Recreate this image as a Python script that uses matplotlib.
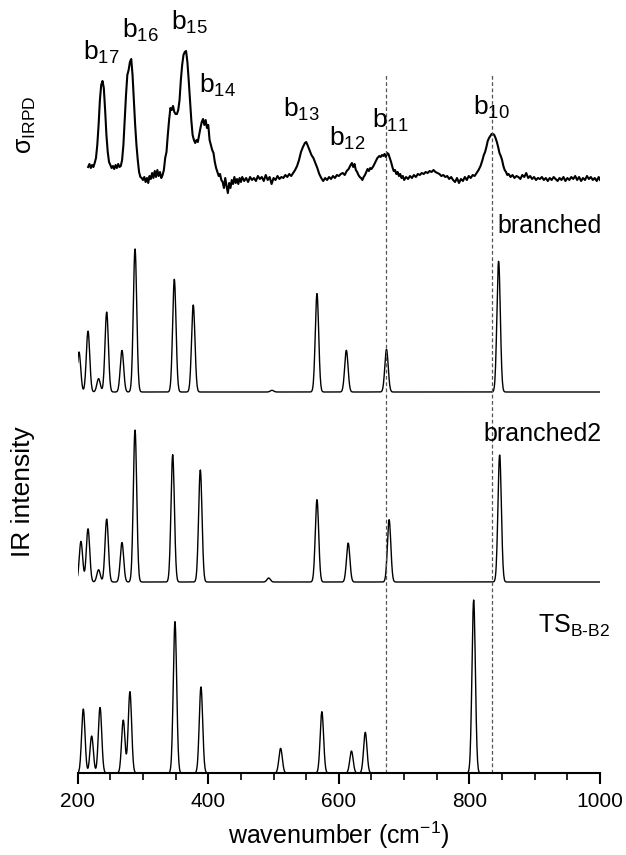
import matplotlib
matplotlib.use("Agg")
import matplotlib.pyplot as plt
import numpy as np

plt.rcParams['font.family'] = ['Liberation Sans', 'DejaVu Sans']
plt.rcParams['mathtext.fontset'] = 'custom'
plt.rcParams['mathtext.rm'] = 'Liberation Sans'
plt.rcParams['mathtext.it'] = 'Liberation Sans'
plt.rcParams['mathtext.default'] = 'regular'

# experimental IRPD trace (wavenumber, signal above baseline)
exp_wn = [216, 218, 220, 222, 224, 226, 228, 230, 232, 234, 236, 238, 240, 242, 244, 246, 248, 250,
          252, 254, 256, 258, 260, 262, 264, 266, 268, 270, 272, 274, 276, 278, 280, 282, 284, 286,
          288, 290, 292, 294, 296, 298, 300, 302, 304, 306, 308, 310, 312, 314, 316, 318, 320, 322,
          324, 326, 328, 330, 332, 334, 336, 338, 340, 342, 344, 346, 348, 350, 352, 354, 356, 358,
          360, 362, 364, 366, 368, 370, 372, 374, 376, 378, 380, 382, 384, 386, 388, 390, 392, 394,
          396, 398, 400, 402, 404, 406, 408, 410, 412, 414, 416, 418, 420, 422, 424, 426, 428, 430,
          432, 434, 436, 438, 440, 442, 444, 446, 448, 450, 452, 455, 458, 461, 464, 467, 470, 473,
          476, 479, 482, 485, 488, 491, 494, 497, 500, 503, 506, 509, 512, 515, 518, 521, 524, 527,
          530, 533, 536, 539, 542, 545, 548, 550, 552, 555, 558, 561, 564, 567, 570, 573, 576, 579,
          582, 585, 588, 591, 594, 597, 600, 603, 606, 609, 612, 615, 618, 620, 622, 624, 626, 628,
          630, 632, 634, 636, 638, 640, 642, 644, 646, 648, 650, 653, 656, 659, 662, 664, 666, 668,
          670, 672, 674, 676, 678, 680, 682, 684, 686, 688, 690, 692, 694, 696, 698, 700, 703, 706,
          709, 712, 715, 718, 721, 724, 727, 730, 733, 736, 739, 742, 745, 748, 751, 754, 757, 760,
          763, 766, 769, 772, 775, 778, 781, 784, 787, 790, 793, 796, 799, 802, 805, 808, 811, 814,
          817, 820, 822, 824, 826, 828, 830, 832, 834, 836, 838, 840, 842, 844, 846, 848, 850, 852,
          854, 856, 858, 860, 863, 866, 869, 872, 875, 878, 881, 884, 887, 890, 893, 896, 899, 902,
          905, 908, 911, 914, 917, 920, 923, 926, 929, 932, 935, 938, 941, 944, 947, 950, 953, 956,
          959, 962, 965, 968, 971, 974, 977, 980, 983, 986, 989, 992, 995, 998, 1000]
exp_sig = [13, 16, 12, 15, 13, 17, 22, 35, 55, 80, 95, 99, 92, 70, 45, 28, 18, 15,
           12, 14, 11, 15, 12, 16, 13, 14, 20, 35, 60, 85, 105, 110, 118, 121, 105, 80,
           55, 35, 20, 8, 3, 2, 0, 3, -2, 2, -3, 4, 1, 7, 2, 9, 3, 10,
           4, 8, 2, 5, 10, 22, 28, 45, 60, 72, 70, 74, 68, 66, 66, 70, 80, 100,
           115, 125, 128, 129, 118, 100, 80, 60, 45, 40, 37, 40, 38, 45, 52, 58, 61, 55,
           60, 52, 55, 40, 35, 30, 27, 18, 12, 8, 4, 6, 0, -2, -8, 2, -6, -13,
           -3, -8, 0, -4, 3, -3, 1, -4, 2, -2, 3, -1, 2, -2, 3, 0, 2, -1,
           4, 1, 3, -1, 5, 0, 3, -4, 2, 0, 4, 1, 3, 2, 5, 3, 6, 4,
           7, 10, 14, 20, 28, 33, 37, 38, 35, 30, 25, 22, 17, 12, 6, 2, -1, 2,
           0, 3, 1, 4, 2, 5, 4, 6, 7, 5, 9, 11, 15, 17, 13, 16, 10, 8,
           5, 3, 2, 0, 3, 5, 8, 11, 9, 12, 11, 14, 18, 22, 24, 23, 25, 24,
           26, 23, 27, 26, 22, 18, 13, 9, 10, 6, 8, 4, 6, 2, 4, 0, 3, 1,
           4, 2, 5, 3, 6, 5, 7, 6, 8, 7, 9, 8, 10, 8, 7, 6, 4, 5,
           3, 4, 1, 3, 0, -2, 2, -3, 1, -1, 3, 0, 4, 2, 5, 4, 7, 10,
           14, 20, 25, 28, 33, 39, 42, 44, 46, 46, 45, 42, 38, 33, 27, 24, 20, 14,
           10, 8, 5, 6, 3, 5, 2, 4, 3, 1, 5, 3, 7, 2, 4, 1, 3, 0,
           2, 1, 3, 0, 2, -1, 2, 0, 3, 1, -1, 2, 0, 3, -1, 2, 0, 3,
           1, 4, 0, 3, -1, 2, 0, 4, 1, 3, 0, 2, -1, 3, 0]

# computed harmonic frequencies (cm-1) and IR intensities (arb. units)
branched_freq = [202, 215.8, 232, 244.4, 267.8, 287.8, 348, 377, 497.6, 566.5, 611.5, 673, 844.7]
branched_int = [40, 61, 13.4, 80, 41.7, 143.4, 112.7, 87, 1.7, 98.4, 41.7, 42.7, 131]
branched2_freq = [205, 215.8, 232, 244.4, 267.8, 287.8, 345.5, 387.8, 492.5, 566.5, 614.3, 677, 846.3]
branched2_int = [40.6, 53.3, 12.3, 63, 39.6, 152.3, 127.3, 112.3, 4, 82.3, 39, 62.3, 127.3]
ts_freq = [208.6, 221.4, 234.2, 269.8, 280, 349, 388.8, 510.8, 574, 619.3, 640.5, 806.5]
ts_int = [64, 37, 65.7, 53, 81.3, 151.3, 86.3, 24.7, 61.3, 22, 40.7, 173]

marker_wn = [672, 835]
band_labels = ['17', '16', '15', '14', '13', '12', '11', '10']
band_x = [208, 268, 343, 386, 514, 585, 651, 805]
band_y = [713, 735, 743, 680, 656, 627, 645, 658]

offsets = {'exp': 593, 'branched': 381, 'branched2': 191, 'ts': 0}
sigma = 2.6


def broaden(grid, freqs, ints, width):
    spec = np.zeros_like(grid)
    for f, i in zip(freqs, ints):
        spec += i * np.exp(-0.5 * ((grid - f) / width) ** 2)
    return spec


fig = plt.figure(figsize=(6.26, 8.55), dpi=100)
ax = fig.add_axes([77.7 / 626, (855 - 773) / 855, (600 - 77.7) / 626, 773 / 855])

grid = np.arange(200, 1000.01, 0.5)
ax.plot(exp_wn, np.array(exp_sig) + offsets['exp'], color='black', lw=1.5)
for name, fr, it in [('branched', branched_freq, branched_int),
                     ('branched2', branched2_freq, branched2_int),
                     ('ts', ts_freq, ts_int)]:
    ax.plot(grid, broaden(grid, fr, it, sigma) + offsets[name], color='black', lw=1.0)

ax.vlines(marker_wn, 0, 700, colors='#555555', linestyles=(0, (3, 2)), lw=0.9)

for lab, x, y in zip(band_labels, band_x, band_y):
    ax.text(x, y, 'b$_{%s}$' % lab, fontsize=19, ha='left', va='baseline')

ax.text(843.6, 540, 'branched', fontsize=18, ha='left', va='baseline')
ax.text(821, 332, 'branched2', fontsize=18, ha='left', va='baseline')
ax.text(905, 140, 'TS$_{B\u2010B2}$', fontsize=18, ha='left', va='baseline')

fig.text(26 / 626, 1 - 125 / 855, '\u03c3$_{IRPD}$', fontsize=18, rotation=90,
         ha='center', va='center')
fig.text(23 / 626, 1 - 492 / 855, 'IR intensity', fontsize=19, rotation=90,
         ha='center', va='center')

ax.set_xlim(200, 1000)
ax.set_ylim(0, 773)
ax.set_xticks([200, 400, 600, 800, 1000])
ax.set_xticks(np.arange(250, 1000, 50), minor=True)
ax.set_yticks([])
for s in ['left', 'right', 'top']:
    ax.spines[s].set_visible(False)
ax.spines['bottom'].set_linewidth(1.5)
ax.tick_params(axis='x', which='major', direction='out', length=8, width=1.5,
               labelsize=15, pad=6)
ax.tick_params(axis='x', which='minor', direction='out', length=5, width=1.2)
ax.set_xlabel('wavenumber (cm$^{-1}$)', fontsize=18, labelpad=6)

fig.savefig('out.png', dpi=100)
